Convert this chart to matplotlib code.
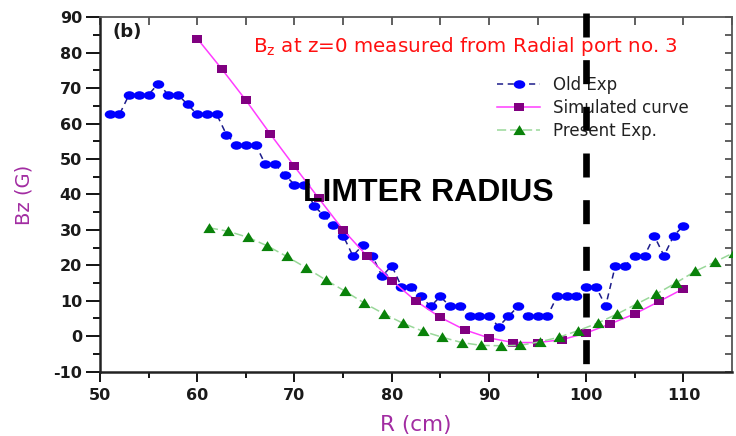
import numpy as np
import matplotlib
matplotlib.use("Agg")
import matplotlib.pyplot as plt
from matplotlib.path import Path
from matplotlib.transforms import Affine2D

# ---- data -------------------------------------------------------------
r_old = [51, 52, 53, 54, 55, 56, 57, 58, 59, 60,
         61, 62, 63, 64, 65, 66, 67, 68, 69, 70,
         71, 72, 73, 74, 75, 76, 77, 78, 79, 80,
         81, 82, 83, 84, 85, 86, 87, 88, 89, 90,
         91, 92, 93, 94, 95, 96, 97, 98, 99, 100,
         101, 102, 103, 104, 105, 106, 107, 108, 109, 110]
bz_old = [62.6, 62.6, 68.2, 68.2, 68.2, 71.3, 68.2, 68.2, 65.4, 62.6,
          62.6, 62.6, 56.9, 54.1, 54.1, 54.1, 48.5, 48.5, 45.5, 42.8,
          42.8, 36.8, 34.1, 31.3, 28.4, 22.7, 25.6, 22.7, 16.9, 19.9,
          14.0, 14.0, 11.2, 8.4, 11.2, 8.4, 8.4, 5.6, 5.6, 5.6,
          2.7, 5.6, 8.4, 5.6, 5.6, 5.6, 11.2, 11.2, 11.2, 14.0,
          14.0, 8.5, 19.9, 19.9, 22.7, 22.7, 28.3, 22.7, 28.3, 31.2]

r_sim = [60, 62.5, 65, 67.5, 70, 72.5, 75, 77.5, 80, 82.5, 85,
         87.5, 90, 92.5, 95, 97.5, 100, 102.5, 105, 107.5, 110]
bz_sim = [84.0, 75.5, 66.6, 57.1, 47.9, 38.9, 30.0, 22.5, 15.7, 9.9, 5.3,
          1.8, -0.5, -1.8, -1.8, -1.0, 0.9, 3.5, 6.3, 9.8, 13.4]

r_new = [61.2, 63.2, 65.2, 67.2, 69.2, 71.2, 73.2, 75.2, 77.2, 79.2,
         81.2, 83.2, 85.2, 87.2, 89.2, 91.2, 93.2, 95.2, 97.2, 99.2,
         101.2, 103.2, 105.2, 107.2, 109.2, 111.2, 113.2, 115.2]
bz_new = [30.6, 29.6, 27.9, 25.5, 22.5, 19.3, 15.9, 12.7, 9.3, 6.3,
          3.6, 1.4, -0.3, -1.8, -2.6, -2.7, -2.6, -1.6, -0.3, 1.6,
          3.7, 6.3, 9.1, 11.9, 15.0, 18.3, 20.9, 23.6]

labels = ["Old Exp", "Simulated curve", "Present Exp."]
limiter_r = 100
x_ticks = [50, 60, 70, 80, 90, 100, 110]
y_ticks = [-10, 0, 10, 20, 30, 40, 50, 60, 70, 80, 90]

# ---- markers (slightly wide shapes) -----------------------------------
ellipse = Path.unit_circle().transformed(Affine2D().scale(1.35, 1.0))
square = Path([(-1.2, -1), (1.2, -1), (1.2, 1), (-1.2, 1), (-1.2, -1)],
              [Path.MOVETO, Path.LINETO, Path.LINETO, Path.LINETO, Path.CLOSEPOLY])
triangle = Path([(0, 0.7), (-0.8, -0.6), (0.8, -0.6), (0, 0.7)],
                [Path.MOVETO, Path.LINETO, Path.LINETO, Path.CLOSEPOLY])

plt.rcParams['font.family'] = ['DejaVu Sans']

fig = plt.figure(figsize=(7.36, 4.36), dpi=100)
ax = fig.add_axes([0.1359, 0.1477, 0.8587, 0.8126])

ax.plot(r_old, bz_old, color='#1c1c8a', lw=1.1, linestyle=(0, (4, 3)),
        marker=ellipse, ms=8.3, mfc='#0000ff', mec='#0000ff', mew=0,
        label=labels[0], zorder=3)
ax.plot(r_sim, bz_sim, color='#ff3cff', lw=1.1, linestyle='-',
        marker=square, ms=7.4, mfc='#800080', mec='#800080', mew=0,
        label=labels[1], zorder=3)
ax.plot(r_new, bz_new, color='#9ad89a', lw=1.1, linestyle=(0, (6, 2.5)),
        marker=triangle, ms=8.8, mfc='#0a820a', mec='#0a820a', mew=0,
        label=labels[2], zorder=3)

# limiter position
ax.plot([limiter_r, limiter_r], [91.1, -8.3], color='black', lw=4.8,
        linestyle=(0, (3.6, 3.4)), solid_capstyle='butt',
        dash_capstyle='butt', clip_on=False, zorder=6)

ax.set_xlim(50, 115)
ax.set_ylim(-10, 90)
ax.set_xticks(x_ticks)
ax.set_yticks(y_ticks)
ax.set_xticks(np.arange(55, 115, 10), minor=True)
ax.set_yticks(np.arange(-5, 90, 10), minor=True)

tick_font = dict(fontsize=11.5, fontweight='bold', color='#1a1a1a')
ax.set_xticklabels([str(v) for v in x_ticks], **tick_font)
ax.set_yticklabels([str(v) for v in y_ticks], **tick_font)
ax.tick_params(axis='y', which='major', direction='out', length=10, width=1.3, pad=3)
ax.tick_params(axis='y', which='minor', direction='out', length=5, width=1.3)
ax.tick_params(axis='x', which='major', direction='out', length=7.5, width=1.3, pad=4)
ax.tick_params(axis='x', which='minor', direction='out', length=4.5, width=1.3)

for side in ['left', 'bottom']:
    ax.spines[side].set_linewidth(1.8)
    ax.spines[side].set_color('#222222')
for side in ['top', 'right']:
    ax.spines[side].set_linewidth(1.3)
    ax.spines[side].set_color('#555555')

top = ax.secondary_xaxis('top')
top.set_xticks(np.arange(50, 116, 5))
top.tick_params(direction='in', length=6, width=1.2, labeltop=False, color='#444444')
top.spines['top'].set_visible(False)
right = ax.secondary_yaxis('right')
right.set_yticks(np.arange(-10, 91, 5))
right.tick_params(direction='in', length=5, width=1.2, labelright=False, color='#444444')
right.spines['right'].set_visible(False)

label_color = '#a22ca2'
ax.set_xlabel('R (cm)', fontsize=15.5, color=label_color, labelpad=9)
ax.set_ylabel('Bz (G)', fontsize=14, color=label_color, labelpad=14)

ax.text(51.3, 85.9, '(b)', fontsize=13, fontweight='bold', color='#1a1a1a',
        ha='left', va='center')
ax.text(65.7, 80.2, r'B$_\mathregular{z}$ at z=0 measured from Radial port no. 3',
        fontsize=14.3, color='#ff1010', ha='left', va='baseline')
ax.text(70.9, 40.3, 'LIMTER RADIUS', fontsize=23, fontweight='bold',
        family='Liberation Sans', color='black', ha='left', va='center', zorder=5)

leg = ax.legend(loc='upper left', bbox_to_anchor=(0.628, 0.835), frameon=False,
                fontsize=12, handlelength=2.6, handletextpad=0.75,
                labelspacing=0.3, borderpad=0, borderaxespad=0)
for t in leg.get_texts():
    t.set_color('#222222')

fig.savefig('out.png', dpi=100)
